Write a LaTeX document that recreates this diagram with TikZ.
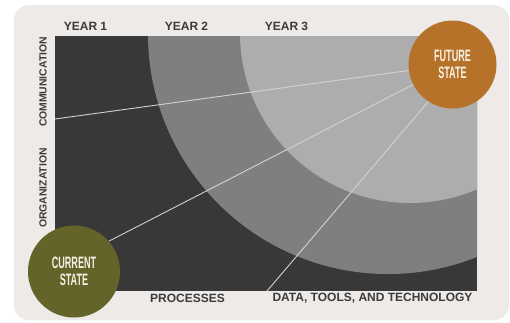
\documentclass[tikz,border=0pt]{standalone}
\usepackage{fontspec}
\usepackage{graphicx}
\setmainfont{Liberation Sans}
\definecolor{panel}{HTML}{EDEAE7}
\definecolor{darkbg}{HTML}{383838}
\definecolor{midring}{HTML}{7F7F7F}
\definecolor{lightring}{HTML}{ADADAD}
\definecolor{futc}{HTML}{B67229}
\definecolor{curc}{HTML}{646329}
\definecolor{labc}{HTML}{3C3C3C}
\definecolor{linec}{HTML}{D2D2D2}
\definecolor{circtext}{HTML}{F6F0E6}
\newcommand{\condtxt}[1]{\scalebox{0.55}[1]{#1}}
\tikzset{
  axislabel/.style={font=\fontsize{12}{14}\selectfont\bfseries, text=labc, inner sep=0pt},
  vlabel/.style={font=\fontsize{10.4}{12}\selectfont\bfseries, text=labc, inner sep=0pt, rotate=90},
  statecirc/.style={circle, minimum size=#1, inner sep=0pt, text=circtext, align=center,
     font=\fontsize{16.5}{17}\selectfont\bfseries},
  conn/.style={draw=linec, line width=0.9pt}
}
\begin{document}
\begin{tikzpicture}[x=1pt,y=-1pt]
\useasboundingbox (0,0) rectangle (510,322);
\fill[white] (0,0) rectangle (510,322);
% panel
\fill[panel, rounded corners=15pt] (14,5) rectangle (509,320);
% dark area with rings
\begin{scope}
  \clip (55,36) rectangle (477,291);
  \fill[darkbg] (55,36) rectangle (477,291);
  \fill[midring] (388,34) circle[radius=240pt];
  \fill[lightring] (410,33) circle[radius=170pt];
\end{scope}
% labels
\node[axislabel] (y1) at (85.5,26) {YEAR 1};
\node[axislabel] (y2) at (186.5,26) {YEAR 2};
\node[axislabel] (y3) at (286.5,26) {YEAR 3};
\node[vlabel] (comm) at (43,82) {COMMUNICATION};
\node[vlabel] (org) at (43,188) {ORGANIZATION};
\node[axislabel] (proc) at (187.5,298.5) {PROCESSES};
\node[axislabel] (data) at (372.5,298.5) {DATA, TOOLS, AND TECHNOLOGY};
% state circles
\node[statecirc=88pt, fill=futc] (fut) at (452.5,64.5) {\condtxt{FUTURE}\\\condtxt{STATE}};
\node[statecirc=92pt, fill=curc] (cur) at (74,271.5) {\condtxt{CURRENT}\\\condtxt{STATE}};
% connectors
\coordinate (c1) at (55,119);
\coordinate (c3) at (267,291);
\draw[conn] (fut) -- (c1);
\draw[conn] (cur.41) -- (fut.207);
\draw[conn] (fut.237) -- (c3);
\end{tikzpicture}
\end{document}
